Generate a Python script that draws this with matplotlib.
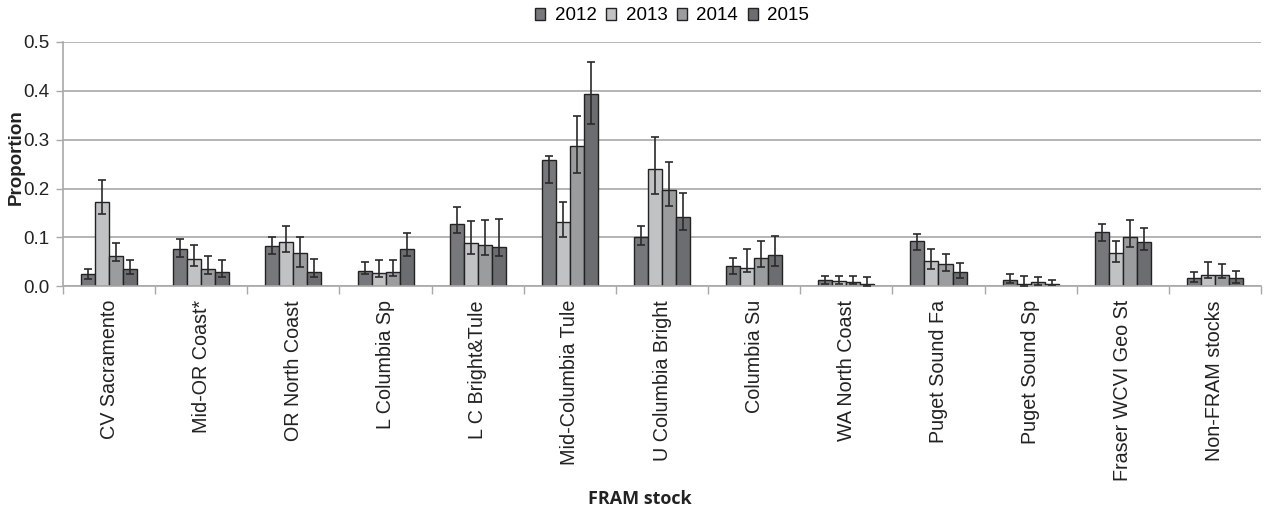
import matplotlib

matplotlib.use("Agg")
import matplotlib.pyplot as plt
import numpy as np

stocks = ["CV Sacramento", "Mid-OR Coast*", "OR North Coast", "L Columbia Sp",
          "L C Bright&Tule", "Mid-Columbia Tule", "U Columbia Bright", "Columbia Su",
          "WA North Coast", "Puget Sound Fa", "Puget Sound Sp", "Fraser WCVI Geo St",
          "Non-FRAM stocks"]
years = ["2012", "2013", "2014", "2015"]

# proportion estimates per year
p2012 = [0.024, 0.077, 0.083, 0.032, 0.128, 0.258, 0.100, 0.042, 0.013, 0.093, 0.013, 0.111, 0.016]
p2013 = [0.173, 0.056, 0.090, 0.027, 0.088, 0.131, 0.239, 0.038, 0.010, 0.051, 0.005, 0.067, 0.023]
p2014 = [0.062, 0.035, 0.067, 0.029, 0.085, 0.288, 0.197, 0.057, 0.008, 0.045, 0.008, 0.100, 0.023]
p2015 = [0.035, 0.029, 0.029, 0.077, 0.080, 0.393, 0.141, 0.064, 0.005, 0.029, 0.005, 0.090, 0.016]

# lower / upper interval bounds
lo2012 = [0.014, 0.059, 0.066, 0.025, 0.109, 0.211, 0.085, 0.024, 0.004, 0.075, 0.006, 0.092, 0.008]
hi2012 = [0.036, 0.096, 0.101, 0.050, 0.162, 0.266, 0.124, 0.058, 0.021, 0.106, 0.026, 0.127, 0.029]
lo2013 = [0.147, 0.042, 0.071, 0.019, 0.066, 0.100, 0.189, 0.029, 0.004, 0.036, 0.001, 0.050, 0.017]
hi2013 = [0.217, 0.085, 0.124, 0.053, 0.133, 0.173, 0.306, 0.077, 0.021, 0.077, 0.021, 0.093, 0.050]
lo2014 = [0.051, 0.025, 0.040, 0.020, 0.064, 0.232, 0.165, 0.039, 0.004, 0.032, 0.003, 0.080, 0.017]
hi2014 = [0.088, 0.061, 0.101, 0.053, 0.135, 0.348, 0.255, 0.093, 0.021, 0.066, 0.018, 0.135, 0.045]
lo2015 = [0.024, 0.018, 0.018, 0.062, 0.062, 0.332, 0.115, 0.042, 0.001, 0.017, 0.002, 0.074, 0.006]
hi2015 = [0.053, 0.053, 0.056, 0.109, 0.138, 0.460, 0.191, 0.103, 0.018, 0.047, 0.013, 0.119, 0.031]

colors = ["#77787b", "#c1c2c4", "#9b9c9e", "#6c6d70"]

plt.rcParams.update({"font.family": ["Liberation Sans", "DejaVu Sans"]})

fig = plt.figure(figsize=(12.8, 5.12), dpi=100)
ax = fig.add_axes([0.0492, 0.441, 0.936, 0.477])

x = np.arange(len(stocks))
w = 0.152
series = [(p2012, lo2012, hi2012), (p2013, lo2013, hi2013),
          (p2014, lo2014, hi2014), (p2015, lo2015, hi2015)]
for i, (vals, lo, hi) in enumerate(series):
    vals, lo, hi = np.array(vals), np.array(lo), np.array(hi)
    pos = x + (i - 1.5) * w
    ax.bar(pos, vals, w, color=colors[i], edgecolor="#222222", linewidth=1.0,
           label=years[i], zorder=2)
    ax.errorbar(pos, vals, yerr=[vals - lo, hi - vals], fmt="none",
                ecolor="#2a2a2a", elinewidth=1.2, capsize=3, capthick=1.2, zorder=3)

ax.set_xlim(-0.5, len(stocks) - 0.5)
ax.set_ylim(0, 0.5)
ax.set_yticks(np.arange(0, 0.51, 0.1))
ax.set_yticklabels(["0.0", "0.1", "0.2", "0.3", "0.4", "0.5"], fontsize=13.5, color="#222222")
ax.yaxis.grid(True, color="#a8a8a8", linewidth=1.2, zorder=0)
ax.set_axisbelow(True)

# category labels centred, tick marks on group boundaries
ax.set_xticks(x)
ax.set_xticklabels(stocks, rotation=90, fontsize=14.2, color="#222222")
ax.tick_params(axis="x", length=0, pad=10)
ax.set_xticks(np.arange(-0.5, len(stocks)), minor=True)
ax.tick_params(axis="x", which="minor", length=6, color="#a8a8a8", width=1)
ax.tick_params(axis="y", length=5, color="#a8a8a8", width=1, pad=5)

for s in ("top", "right"):
    ax.spines[s].set_visible(False)
for s in ("left", "bottom"):
    ax.spines[s].set_color("#a8a8a8")
    ax.spines[s].set_linewidth(1.2)

fig.text(0.0125, 0.693, "Proportion", rotation=90, ha="center", va="center",
         fontsize=13.5, fontweight="bold", color="#222222")
fig.text(0.5, 0.008, "FRAM stock", ha="center", va="bottom", fontsize=13,
         fontweight="bold", family=["Open Sans", "DejaVu Sans"], color="#222222")

leg = fig.legend(*ax.get_legend_handles_labels(), loc="center",
                 bbox_to_anchor=(0.525, 1 - 16 / 512), ncol=4, frameon=False,
                 fontsize=13.5, handlelength=0.55, handleheight=0.55, handletextpad=0.5,
                 columnspacing=0.5)

fig.savefig("out.png", dpi=100)
